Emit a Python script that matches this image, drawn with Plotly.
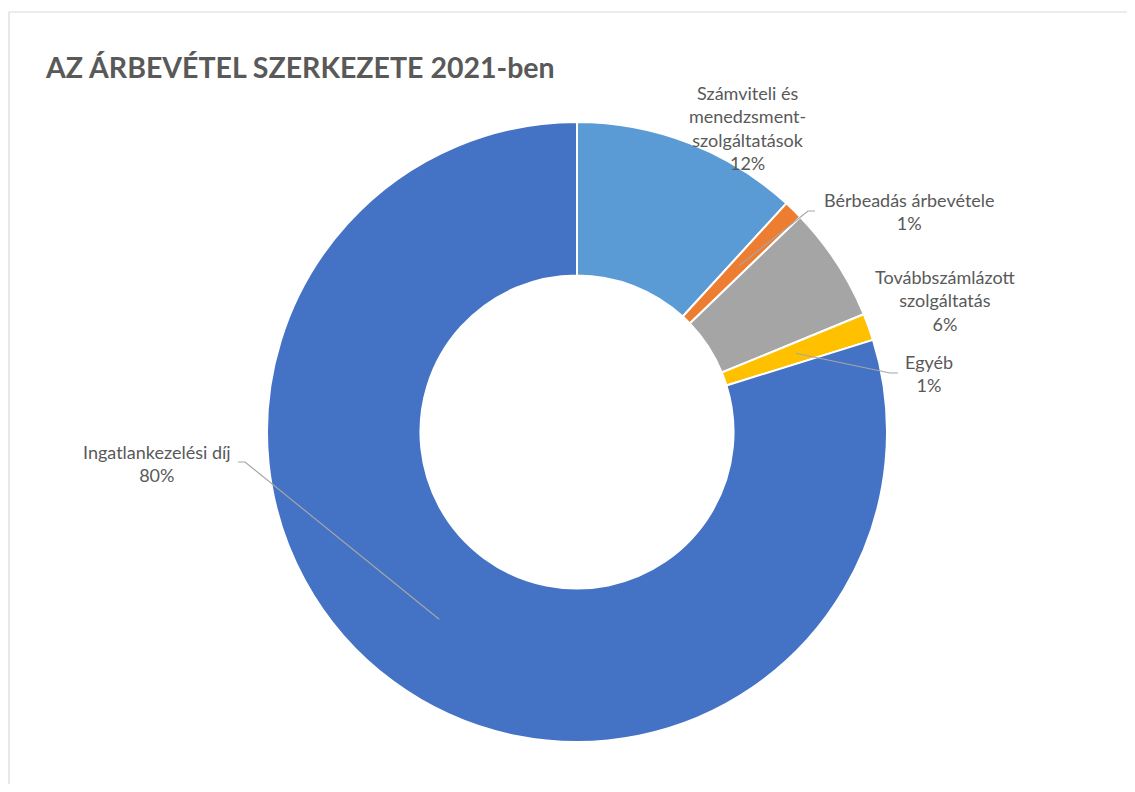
import math
import plotly.graph_objects as go

W, H = 1135, 792
OFF = 8  # page body margin in the browser
FW, FH = W - 2 * OFF, H - 2 * OFF

categories = [
    "Számviteli és menedzsment-szolgáltatások",
    "Bérbeadás árbevétele",
    "Továbbszámlázott szolgáltatás",
    "Egyéb",
    "Ingatlankezelési díj",
]
values = [11.8, 1.0, 6.0, 1.4, 79.8]
label_texts = [
    "Számviteli és<br>menedzsment-<br>szolgáltatások<br>12%",
    "Bérbeadás árbevétele<br>1%",
    "Továbbszámlázott<br>szolgáltatás<br>6%",
    "Egyéb<br>1%",
    "Ingatlankezelési díj<br>80%",
]
colors = ["#5B9BD5", "#ED7D31", "#A5A5A5", "#FFC000", "#4472C4"]

# layout geometry (screen pixels)
CX, CY, R = 577, 432, 310
HOLE = 0.505

def px(x):
    return (x - OFF) / FW

def py(y):
    return 1 - (y - OFF) / FH

fig = go.Figure(go.Pie(
    labels=categories,
    values=values,
    sort=False,
    direction="clockwise",
    rotation=0,
    hole=HOLE,
    marker=dict(colors=colors, line=dict(color="white", width=2)),
    textinfo="none",
    hoverinfo="label+percent",
    domain=dict(x=[px(CX - R), px(CX + R)], y=[py(CY + R), py(CY - R)]),
    showlegend=False,
))

# label positions (pixel centers of text blocks) and leader-line elbows
label_pos = [(747, 128), (909, 212), (945, 300), (929, 373), (157, 463)]
elbows = [None, [(815, 211), (808, 211)], None, [(898, 373), (890, 373)], [(238, 462), (245, 462)]]

total = sum(values)
cum = 0
shapes = []
annotations = []
for i, v in enumerate(values):
    mid = (cum + v / 2) / total * 2 * math.pi
    cum += v
    lx, ly = label_pos[i]
    annotations.append(dict(
        x=px(lx), y=py(ly), xref="paper", yref="paper", text=label_texts[i],
        showarrow=False, xanchor="center", yanchor="middle", align="center",
        font=dict(family="Lato, Open Sans, sans-serif", size=18, color="#595959"),
    ))
    if elbows[i]:
        rr = 0.75 * R
        ex = CX + rr * math.sin(mid)
        ey = CY - rr * math.cos(mid)
        pts = elbows[i] + [(ex, ey)]
        path = "M " + " L ".join(f"{px(a):.5f},{py(b):.5f}" for a, b in pts)
        shapes.append(dict(type="path", xref="paper", yref="paper", path=path,
                           line=dict(color="#A6A6A6", width=1.2)))

# outer chart border (top and left edge visible)
shapes.append(dict(type="line", xref="paper", yref="paper", x0=px(9), y0=py(12), x1=1.0, y1=py(12),
                   line=dict(color="#D9D9D9", width=1.2)))
shapes.append(dict(type="line", xref="paper", yref="paper", x0=px(9), y0=py(12), x1=px(9), y1=0.0,
                   line=dict(color="#D9D9D9", width=1.2)))

annotations.append(dict(
    x=px(43), y=py(67), xref="paper", yref="paper",
    text="<b>AZ ÁRBEVÉTEL SZERKEZETE 2021-ben</b>",
    showarrow=False, xanchor="left", yanchor="middle",
    font=dict(family="Lato, Open Sans, sans-serif", size=28.5, color="#595959"),
))

fig.update_layout(
    width=FW, height=FH,
    margin=dict(l=0, r=0, t=0, b=0),
    paper_bgcolor="white", plot_bgcolor="white",
    shapes=shapes, annotations=annotations,
)

fig.write_html("out.html")
